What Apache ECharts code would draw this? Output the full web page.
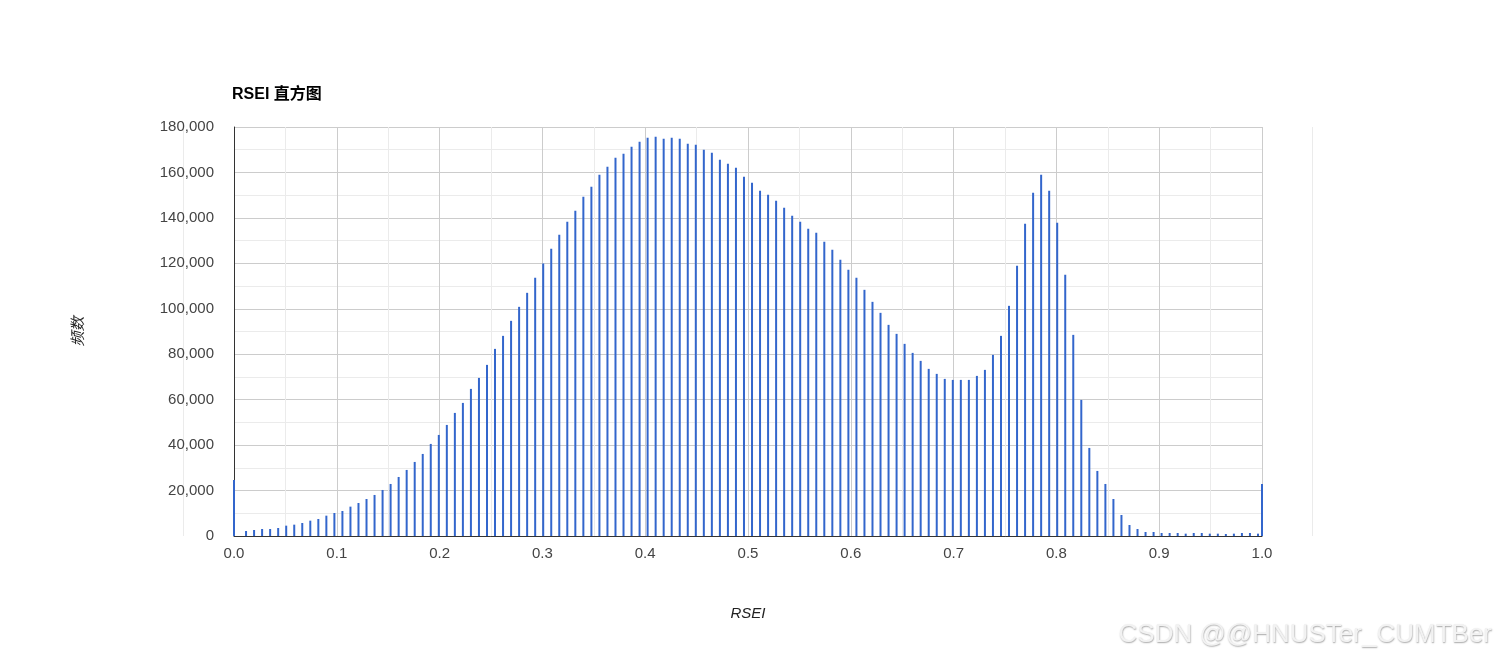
<!DOCTYPE html>
<html>
<head>
<meta charset="utf-8">
<title>RSEI 直方图</title>
<script src="https://cdn.jsdelivr.net/npm/echarts@6/dist/echarts.min.js"></script>
<style>
  html, body { margin: 0; padding: 0; background: #fff; }
  #chart { width: 1496px; height: 664px; }
</style>
</head>
<body>
<div id="chart"></div>
<script>
// 128 buckets over [0, 1]; first bar sits at 0 and an extra one at 1.0
const binCount = 128
const binWidth = 1 / binCount
const binCenters = [0]
for (let i = 1; i < binCount; i++) binCenters.push((i + 0.5) * binWidth)
binCenters.push(1)

// counts
const counts = [
  24700, 2200, 2640, 3080, 3080, 3520, 4550, 4990, 5720, 6750,
  7490, 8950, 10130, 11010, 12920, 14530, 16290, 18060, 20260, 22900,
  25980, 29070, 32590, 36110, 40520, 44480, 48880, 54170, 58570, 64740,
  69580, 75310, 82350, 88080, 94690, 100850, 107020, 113620, 119940, 126390,
  132560, 138290, 143130, 149300, 153700, 158980, 162510, 166470, 168230, 171320,
  173520, 175280, 175720, 174840, 175280, 174840, 172640, 172200, 170000, 168670,
  165590, 163830, 162070, 158100, 155460, 151940, 150180, 147530, 144450, 140930,
  138290, 135200, 133440, 129480, 125950, 121550, 117150, 113620, 108340, 103050,
  98210, 92920, 88960, 84560, 80590, 77070, 73550, 71350, 69140, 68700,
  68700, 68700, 70460, 73110, 79710, 88080, 101290, 118910, 137400, 151060,
  158980, 151940, 137840, 114940, 88520, 59890, 38760, 28630, 22900, 16290,
  9250, 4840, 3080, 1760, 1760, 1320, 1320, 1320, 1030, 1320,
  1320, 1030, 1030, 880, 1030, 1320, 1320, 1030, 22900
]

const chart = echarts.init(document.getElementById('chart'))
const font = 'Arial, "Liberation Sans", "Noto Sans CJK SC", sans-serif'

const option = {
  animation: false,
  textStyle: { fontFamily: font },
  title: {
    text: 'RSEI 直方图',
    left: 227,
    top: 82,
    textStyle: { fontSize: 16, fontWeight: 'bold', color: '#000', fontFamily: font }
  },
  grid: { left: 234, right: 234, top: 127, bottom: 128, containLabel: false },
  xAxis: {
    type: 'value',
    min: 0,
    max: 1,
    interval: 0.1,
    name: 'RSEI',
    nameLocation: 'middle',
    nameGap: 70,
    nameTextStyle: { fontStyle: 'italic', fontSize: 15, color: '#222' },
    axisLine: { show: true, onZero: false, lineStyle: { color: '#333', width: 1 } },
    axisTick: { show: false },
    axisLabel: {
      color: '#444', fontSize: 15, margin: 10,
      formatter: v => v.toFixed(1)
    },
    splitLine: { show: true, lineStyle: { color: '#cccccc' } },
    minorTick: { show: false, splitNumber: 2 },
    minorSplitLine: { show: true, lineStyle: { color: '#ebebeb' } }
  },
  yAxis: {
    type: 'value',
    min: 0,
    max: 180000,
    interval: 20000,
    name: '频数',
    nameLocation: 'middle',
    nameGap: 148,
    nameTextStyle: { fontStyle: 'italic', fontSize: 15, color: '#222' },
    axisLine: { show: true, lineStyle: { color: '#333', width: 1 } },
    axisTick: { show: false },
    axisLabel: {
      color: '#444', fontSize: 15, margin: 20,
      formatter: v => v.toLocaleString('en-US')
    },
    splitLine: { show: true, lineStyle: { color: '#cccccc' } },
    minorTick: { show: false, splitNumber: 2 },
    minorSplitLine: { show: true, lineStyle: { color: '#ebebeb' } }
  },
  series: [{
    type: 'bar',
    barWidth: 2,
    itemStyle: { color: '#3366cc' },
    data: binCenters.map((x, i) => [x, counts[i]])
  }],
  graphic: [
    { type: 'line', shape: { x1: 183.5, y1: 127, x2: 183.5, y2: 536 }, style: { stroke: '#ebebeb', lineWidth: 1 } },
    { type: 'line', shape: { x1: 1312.5, y1: 127, x2: 1312.5, y2: 536 }, style: { stroke: '#ebebeb', lineWidth: 1 } },
    {
      type: 'text',
      right: 4,
      top: 622,
      style: {
        text: 'CSDN @@HNUSTer_CUMTBer',
        font: '26px Arial, "Liberation Sans", sans-serif',
        fill: '#f2f2f2',
        textShadowColor: 'rgba(0,0,0,0.35)',
        textShadowBlur: 1.5,
        textShadowOffsetX: 0.5,
        textShadowOffsetY: 0.5
      }
    }
  ]
}

chart.setOption(option)
</script>
</body>
</html>
